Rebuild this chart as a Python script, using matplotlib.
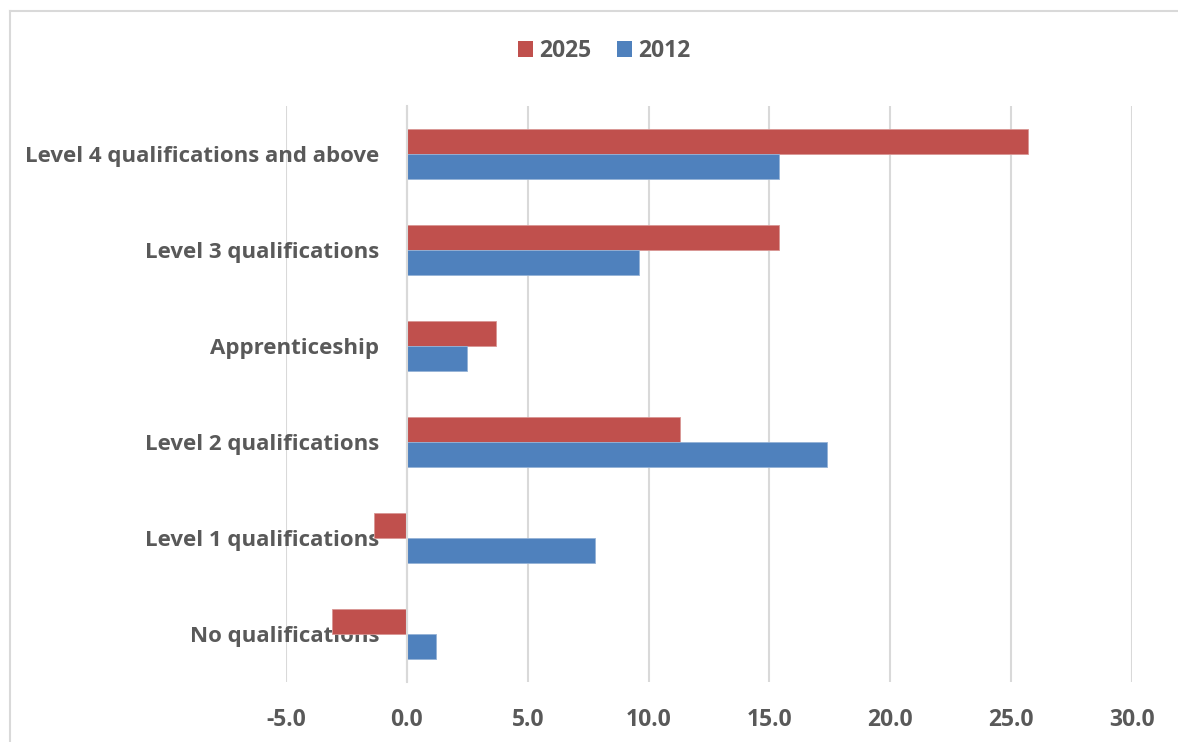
import numpy as np
import matplotlib.pyplot as plt
from matplotlib.patches import Patch
from matplotlib.lines import Line2D

# values
categories = ['Level 4 qualifications and above', 'Level 3 qualifications', 'Apprenticeship',
              'Level 2 qualifications', 'Level 1 qualifications', 'No qualifications']
vals_2025 = [25.7, 15.4, 3.7, 11.3, -1.35, -3.1]
vals_2012 = [15.4, 9.6, 2.5, 17.4, 7.8, 1.2]
xticks = [-5, 0, 5, 10, 15, 20, 25, 30]

red = '#C0504D'
blue = '#4F81BD'
txt = '#595959'
grid = '#D9D9D9'

plt.rcParams['font.family'] = ['Open Sans', 'DejaVu Sans']
plt.rcParams['font.weight'] = 'bold'

fig = plt.figure(figsize=(11.78, 7.42), dpi=100)
ax = fig.add_axes([286 / 1178, 60 / 742, 846 / 1178, 576 / 742])

# spine position first, it resets the tick styling
for s in ['top', 'right', 'bottom']:
    ax.spines[s].set_visible(False)
ax.spines['left'].set_position(('data', 0))
ax.spines['left'].set_color(grid)
ax.spines['left'].set_linewidth(1.5)
ax.spines['left'].set_zorder(4)

y = np.arange(len(categories))
h = 0.26
ax.barh(y - h / 2, vals_2025, height=h, color=red, edgecolor='#D99694', linewidth=0.6, zorder=3)
ax.barh(y + h / 2, vals_2012, height=h, color=blue, edgecolor='#95B3D7', linewidth=0.6, zorder=3)

ax.set_xlim(-5, 30)
ax.set_ylim(len(categories) - 0.5, -0.5)
ax.set_xticks(xticks)
ax.set_xticklabels([f'{v:.1f}' for v in xticks], fontsize=16.5, color=txt, fontweight='bold')
ax.set_yticks(y)
ax.set_yticklabels(categories, fontsize=16, color=txt, fontweight='bold')

ax.grid(axis='x', color=grid, linewidth=1.5, zorder=0)
ax.tick_params(axis='x', length=0, pad=19)
ax.tick_params(axis='y', length=0, pad=20)

# chart area border (left and top edges visible)
fig.add_artist(Line2D([10 / 1178, 10 / 1178], [0, 1 - 11 / 742], transform=fig.transFigure,
                      color=grid, linewidth=1.5))
fig.add_artist(Line2D([10 / 1178, 1], [1 - 11 / 742, 1 - 11 / 742], transform=fig.transFigure,
                      color=grid, linewidth=1.5))

handles = [Patch(facecolor=red), Patch(facecolor=blue)]
fig.legend(handles, ['2025', '2012'], loc='center', bbox_to_anchor=(0.513, 1 - 51 / 742), ncol=2,
           frameon=False, fontsize=16.5, labelcolor=txt, handlelength=0.65, handleheight=0.65,
           handletextpad=0.3, columnspacing=1.1)

fig.savefig('out.png', dpi=100)
